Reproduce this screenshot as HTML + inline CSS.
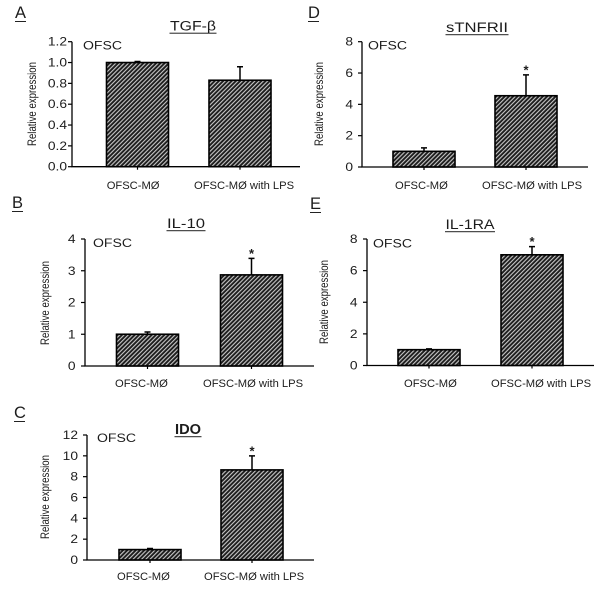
<!DOCTYPE html>
<html lang="en">
<head>
<meta charset="utf-8">
<title>Relative expression charts</title>
<style>
html,body{margin:0;padding:0;background:#fff;width:600px;height:592px;overflow:hidden}
svg{display:block}
text{font-family:"Liberation Sans",Arial,sans-serif;fill:#1c1c1c}
</style>
</head>
<body>
<svg id="figure" width="600" height="592" viewBox="0 0 600 592" xmlns="http://www.w3.org/2000/svg">
<defs>
<pattern id="hatch" width="3" height="3" patternUnits="userSpaceOnUse" patternTransform="rotate(45)">
<rect width="3" height="3" fill="#1c1c1c"/>
<rect width="1.1" height="3" fill="#c8c8c8"/>
</pattern>
</defs>
</svg>
<script>
const categories = ['OFSC-MØ', 'OFSC-MØ with LPS'];

const tgfValues = [1.0, 0.83];
const tgfErrors = [0.01, 0.13];
const tgfTicks = ['0.0', '0.2', '0.4', '0.6', '0.8', '1.0', '1.2'];

const il10Values = [1.0, 2.87];
const il10Errors = [0.07, 0.52];
const il10Ticks = ['0', '1', '2', '3', '4'];

const idoValues = [1.0, 8.65];
const idoErrors = [0.1, 1.35];
const idoTicks = ['0', '2', '4', '6', '8', '10', '12'];

const tnfValues = [1.0, 4.55];
const tnfErrors = [0.22, 1.33];
const tnfTicks = ['0', '2', '4', '6', '8'];

const il1raValues = [1.0, 7.0];
const il1raErrors = [0.05, 0.52];
const il1raTicks = ['0', '2', '4', '6', '8'];

const panels = [
  {id:'a', letter:'A', lx:15, ly:18, title:'TGF-β', tx:193, ty:30.5, tw:46, bold:false,
   values:tgfValues, errors:tgfErrors, ticks:tgfTicks, stars:[false,false], gap:5,
   left:72, right:300, top:41.7, bottom:166.7, c0:137.5, step:102.5,
   ofx:83, ofy:49.5, ytx:36, yty:104, lab0:106.7, lab1:194, laby:189},
  {id:'b', letter:'B', lx:12, ly:208, title:'IL-10', tx:186, ty:228, tw:38, bold:false,
   values:il10Values, errors:il10Errors, ticks:il10Ticks, stars:[false,true], gap:9.5,
   left:85, right:314, top:239, bottom:366, c0:147.5, step:104,
   ofx:93, ofy:247, ytx:49, yty:303, lab0:115, lab1:203, laby:387},
  {id:'c', letter:'C', lx:14, ly:418, title:'IDO', tx:188, ty:434, tw:26, bold:true,
   values:idoValues, errors:idoErrors, ticks:idoTicks, stars:[false,true], gap:9,
   left:87, right:314, top:435, bottom:560, c0:150, step:102,
   ofx:97, ofy:442, ytx:49, yty:497, lab0:117, lab1:204, laby:580},
  {id:'d', letter:'D', lx:308, ly:18, title:'sTNFRII', tx:477, ty:32, tw:62, bold:false,
   values:tnfValues, errors:tnfErrors, ticks:tnfTicks, stars:[false,true], gap:9,
   left:362, right:588, top:41.7, bottom:167, c0:424, step:102,
   ofx:368, ofy:49.5, ytx:323, yty:104, lab0:395, lab1:482, laby:189},
  {id:'e', letter:'E', lx:310, ly:209, title:'IL-1RA', tx:470, ty:229, tw:49, bold:false,
   values:il1raValues, errors:il1raErrors, ticks:il1raTicks, stars:[false,true], gap:9.5,
   left:367, right:594, top:239, bottom:365.5, c0:429, step:103,
   ofx:373, ofy:247.5, ytx:328, yty:302, lab0:404, lab1:491, laby:387}
];

const NS = 'http://www.w3.org/2000/svg';
const svg = document.getElementById('figure');

function make(tag, parent, props, text) {
  const el = document.createElementNS(NS, tag);
  for (const k in props) el.setAttribute(k, props[k]);
  if (text !== undefined) el.textContent = text;
  parent.appendChild(el);
  return el;
}

panels.forEach(function (p) {
  const g = make('g', svg, {});
  
  

  const yMax = parseFloat(p.ticks[p.ticks.length - 1]);
  const yScale = function (v) { return p.bottom - (v / yMax) * (p.bottom - p.top); };
  const xScale = function (i) { return p.c0 + i * p.step; };
  const barWidth = 62;

  const letter = make('text', g, {x:p.lx, y:p.ly, 'font-size':16.5}, p.letter);
  
  
  const letterRule = make('rect', g, {x:p.lx, y:p.ly + 3, width:11, height:1, fill:'#222'});
  
  

  const title = make('text', g, {x:p.tx - p.tw / 2, y:p.ty, 'font-size':p.bold ? 14.5 : 13.5, 'font-weight':p.bold ? 'bold' : 'normal',
    textLength:p.tw, lengthAdjust:'spacingAndGlyphs'}, p.title);
  
  
  const titleRule = make('rect', g, {x:p.tx - p.tw / 2 - 0.5, y:p.ty + 2.2, width:p.tw + 1, height:1, fill:'#222'});
  
  

  const ofsc = make('text', g, {x:p.ofx, y:p.ofy, 'font-size':11.5, textLength:39, lengthAdjust:'spacingAndGlyphs'}, 'OFSC');
  
  

  const yTitle = make('text', g, {transform:'translate(' + p.ytx + ',' + p.yty + ') rotate(-90)', 'text-anchor':'middle',
    'font-size':11.8, fill:'#444', textLength:84, lengthAdjust:'spacingAndGlyphs'}, 'Relative expression');
  
  

  p.values.forEach(function (v, i) {
    const bar = make('rect', g, {x:xScale(i) - barWidth / 2, y:yScale(v), width:barWidth, height:p.bottom - yScale(v),
      fill:'url(#hatch)', stroke:'#000', 'stroke-width':1.6});
    
    

    const top = yScale(v + p.errors[i]);
    const err = make('path', g, {d:'M' + xScale(i) + ' ' + yScale(v) + 'V' + top + 'M' + (xScale(i) - 3) + ' ' + top + 'H' + (xScale(i) + 3),
      stroke:'#000', 'stroke-width':1.5, fill:'none'});
    
    

    if (p.stars[i]) {
      const star = make('text', g, {x:xScale(i), y:top - 0.5, 'text-anchor':'middle', 'font-size':13, 'font-weight':'bold'}, '*');
      
      
    }

    const tick = make('line', g, {x1:xScale(i), x2:xScale(i), y1:p.bottom, y2:p.bottom + 3, stroke:'#000', 'stroke-width':1.2});
    
    

    const lab = make('text', g, {x:i === 0 ? p.lab0 : p.lab1, y:p.laby, 'font-size':11.2, fill:'#222'}, categories[i]);
    
    
  });

  p.ticks.forEach(function (t) {
    const y = yScale(parseFloat(t));
    const tick = make('line', g, {x1:p.left - 4, x2:p.left, y1:y, y2:y, stroke:'#000', 'stroke-width':1.2});
    
    
    const lab = make('text', g, {transform:'translate(' + (p.left - p.gap) + ',' + (y + 4) + ') scale(1.2,1)', 'text-anchor':'end',
      'font-size':11.5, fill:'#222'}, t);
    
    
  });

  const axes = make('path', g, {d:'M' + p.left + ' ' + p.top + 'V' + p.bottom + 'H' + p.right, stroke:'#000', 'stroke-width':1.3, fill:'none'});
  
  
});
</script>
</body>
</html>
